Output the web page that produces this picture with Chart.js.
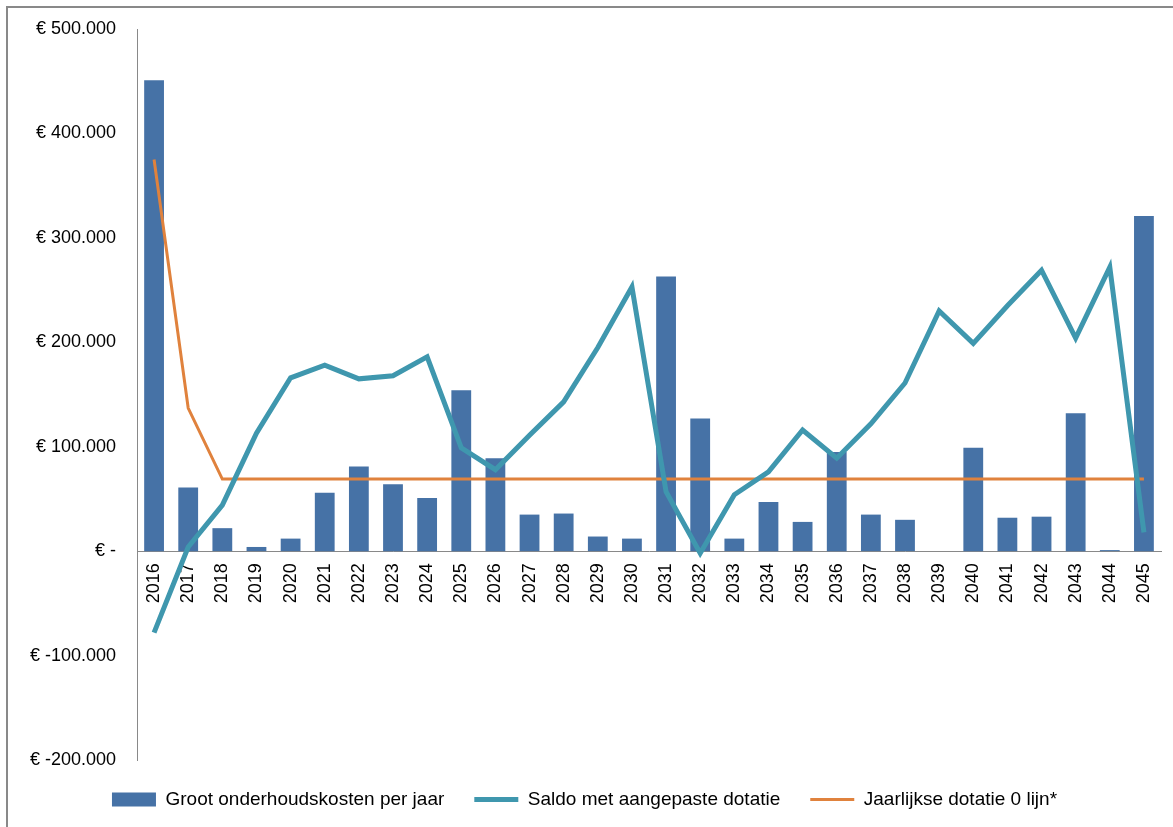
<!DOCTYPE html>
<html lang="nl">
<head>
  <meta charset="UTF-8">
  <title>Groot onderhoud</title>
  <script src="https://cdn.jsdelivr.net/npm/chart.js"></script>
  <style>
    body {
      margin: 0;
      background-color: white;
      font-family: "Liberation Sans", Arial, sans-serif;
    }
    .kader {
      position: absolute;
      left: 6px;
      top: 6px;
      width: 1167px;
      height: 821px;
      border-left: 2px solid #898989;
      border-top: 2px solid #898989;
    }
  </style>
</head>
<body>
  <div class="kader">
    <canvas id="grafiek"></canvas>
  </div>

  <script>
    const jaren = ['2016','2017','2018','2019','2020','2021','2022','2023','2024','2025',
                   '2026','2027','2028','2029','2030','2031','2032','2033','2034','2035',
                   '2036','2037','2038','2039','2040','2041','2042','2043','2044','2045'];

    const onderhoudskosten = [451000, 61000, 22000, 4000, 12000, 56000, 81000, 64000, 51000, 154000,
                              89000, 35000, 36000, 14000, 12000, 263000, 127000, 12000, 47000, 28000,
                              95000, 35000, 30000, 0, 99000, 32000, 33000, 132000, 1000, 321000];

    const saldo = [-78000, 4000, 44000, 113000, 166000, 178000, 165000, 168000, 186000, 99000,
                   78000, 111000, 143000, 195000, 253000, 57000, -2000, 54000, 76000, 116000,
                   89000, 122000, 161000, 230000, 199000, 235000, 269000, 204000, 272000, 18000];

    const dotatie = [375000, 137000, 69000, 69000, 69000, 69000, 69000, 69000, 69000, 69000,
                     69000, 69000, 69000, 69000, 69000, 69000, 69000, 69000, 69000, 69000,
                     69000, 69000, 69000, 69000, 69000, 69000, 69000, 69000, 69000, 69000];

    function euro(v) {
      if (v === 0) return '€ -';
      const s = Math.abs(v).toString().replace(/\B(?=(\d{3})+(?!\d))/g, '.');
      return '€ ' + (v < 0 ? '-' : '') + s;
    }

    Chart.defaults.font.family = '"Liberation Sans", Arial, sans-serif';
    Chart.defaults.font.size = 18;
    Chart.defaults.color = '#000';

    new Chart(document.getElementById('grafiek'), {
      type: 'bar',
      data: {
        labels: jaren,
        datasets: [
          {
            label: 'Groot onderhoudskosten per jaar',
            data: onderhoudskosten,
            backgroundColor: '#4672a6',
            categoryPercentage: 1,
            barPercentage: 0.58,
            pointStyle: 'rect',
            order: 3
          },
          {
            type: 'line',
            label: 'Saldo met aangepaste dotatie',
            data: saldo,
            borderColor: '#3f97ae',
            backgroundColor: '#3f97ae',
            borderWidth: 5,
            pointRadius: 0,
            pointStyle: 'line',
            tension: 0,
            order: 1
          },
          {
            type: 'line',
            label: 'Jaarlijkse dotatie 0 lijn*',
            data: dotatie,
            borderColor: '#e0823d',
            backgroundColor: '#e0823d',
            borderWidth: 3,
            pointRadius: 0,
            pointStyle: 'line',
            tension: 0,
            order: 2
          }
        ]
      },
      options: {
        responsive: true,
        maintainAspectRatio: false,
        animation: false,
        layout: {
          padding: { left: 0, top: 21, right: 14, bottom: 10 }
        },
        plugins: {
          legend: {
            position: 'bottom',
            labels: {
              usePointStyle: true,
              pointStyleWidth: 44,
              boxHeight: 14,
              padding: 30,
              font: { size: 19 },
              sort: (a, b) => a.datasetIndex - b.datasetIndex
            }
          },
          tooltip: { enabled: false }
        },
        scales: {
          x: {
            position: { y: 0 },
            grid: { display: false, drawTicks: false },
            border: { display: true, color: '#898989', width: 1 },
            ticks: {
              minRotation: 90,
              maxRotation: 90,
              autoSkip: false,
              padding: 12
            },
            afterFit: (scale) => {
              scale.paddingTop = 0;
              scale.paddingBottom = 0;
              scale.paddingLeft = 0;
              scale.paddingRight = 0;
            }
          },
          y: {
            min: -200000,
            max: 500000,
            grid: { display: false, drawTicks: false },
            border: { display: true, color: '#898989', width: 1 },
            ticks: {
              stepSize: 100000,
              padding: 21,
              callback: (v) => euro(v)
            },
            afterFit: (scale) => {
              scale.width = 129;
              scale.paddingTop = 0;
              scale.paddingBottom = 0;
            }
          }
        }
      }
    });
  </script>
</body>
</html>
